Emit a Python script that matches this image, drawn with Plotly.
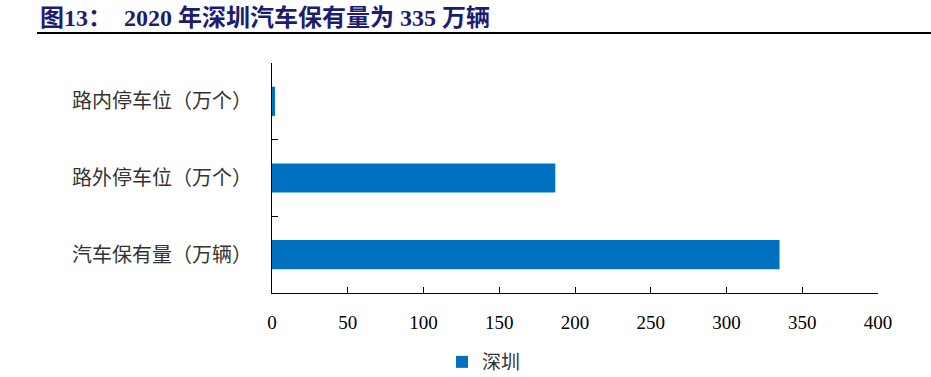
import plotly.graph_objects as go

categories = ["汽车保有量（万辆）", "路外停车位（万个）", "路内停车位（万个）"]
values = [335, 187, 2]
series_name = "深圳"
x_ticks = [0, 50, 100, 150, 200, 250, 300, 350, 400]
title_text = "图13：  2020 年深圳汽车保有量为 335 万辆"

BAR = "#0070C0"
L, R, T, B = 272, 53, 63, 84
W, H = 931, 377
pw = W - L - R
ph = H - T - B

fig = go.Figure()
fig.add_trace(go.Bar(
    y=categories, x=values, orientation="h", name=series_name,
    marker=dict(color=BAR, line=dict(width=0)),
    showlegend=True,
))

fig.update_layout(
    width=W, height=H,
    margin=dict(l=L, r=R, t=T, b=B, autoexpand=False),
    plot_bgcolor="white", paper_bgcolor="white",
    bargap=0.62,
    showlegend=True,
    legend=dict(
        orientation="h", x=(442 - L) / pw, y=(H - B - 362) / ph,
        xanchor="left", yanchor="middle",
        font=dict(family="Noto Sans CJK SC", size=19, color="#333333"),
        itemwidth=30,
    ),
    xaxis=dict(
        range=[0, 400], tickvals=x_ticks, ticktext=[str(v) for v in x_ticks],
        showgrid=False, zeroline=False, automargin=False,
        showline=True, linecolor="black", linewidth=1,
        ticks="inside", ticklen=6, tickcolor="black",
        tickfont=dict(family="Liberation Serif", size=19, color="black"),
        ticklabelstandoff=12,
        fixedrange=True,
    ),
    yaxis=dict(
        type="category", categoryorder="array", categoryarray=categories,
        showgrid=False, zeroline=False, automargin=False,
        showline=True, linecolor="black", linewidth=1,
        ticks="inside", ticklen=6, tickcolor="black", tickson="boundaries",
        tickfont=dict(family="Noto Sans CJK SC", size=20, color="#333333"),
        ticklabelstandoff=15,
        fixedrange=True,
    ),
    annotations=[dict(
        text="<b>" + title_text + "</b>",
        xref="paper", yref="paper",
        x=(38 - L) / pw, y=1 + (T - 18) / ph,
        xanchor="left", yanchor="middle", showarrow=False,
        font=dict(family="Liberation Serif, Noto Sans CJK SC", size=24, color="#1c1c72"),
    )],
    shapes=[dict(
        type="line", xref="paper", yref="paper",
        x0=(37 - L) / pw, x1=(931 - L) / pw,
        y0=1 + (T - 33) / ph, y1=1 + (T - 33) / ph,
        line=dict(color="black", width=2),
    )],
)

fig.write_html("out.html", config={"displayModeBar": False},
               post_script="document.body.style.margin='0';")
